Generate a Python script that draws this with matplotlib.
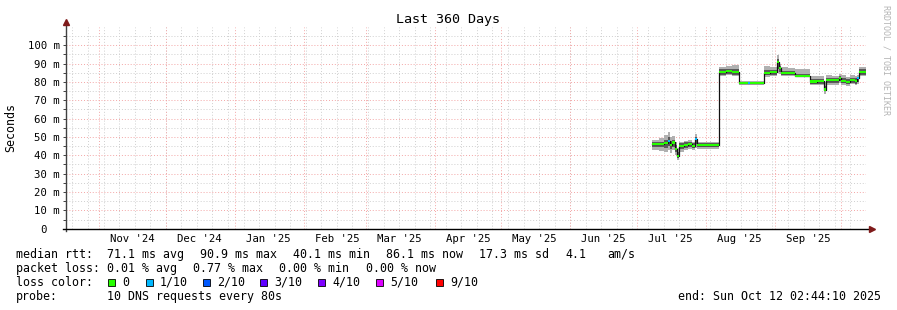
import numpy as np
import matplotlib
matplotlib.use('Agg')
import matplotlib.pyplot as plt
import matplotlib.dates as mdates
from matplotlib.patches import Rectangle
from matplotlib.ticker import MultipleLocator, FuncFormatter, FixedLocator

W, H = 897, 310
plt.rcParams['font.family'] = 'DejaVu Sans Mono'

t_start = np.datetime64('2024-10-17T02:44:10')
t_end = np.datetime64('2025-10-12T02:44:10')

# step edges of the consolidated rows (value holds until the next edge)
edges = ['2025-07-08', '2025-07-11', '2025-07-13', '2025-07-15', '2025-07-16',
         '2025-07-17', '2025-07-18', '2025-07-19', '2025-07-20', '2025-07-22',
         '2025-07-24', '2025-07-26', '2025-07-27', '2025-07-28', '2025-08-01',
         '2025-08-04', '2025-08-07', '2025-08-10', '2025-08-13', '2025-08-16',
         '2025-08-20', '2025-08-21', '2025-08-27', '2025-08-30', '2025-09-02',
         '2025-09-03', '2025-09-04', '2025-09-07', '2025-09-10', '2025-09-14',
         '2025-09-17', '2025-09-20', '2025-09-23', '2025-09-24', '2025-09-27',
         '2025-09-30', '2025-10-01', '2025-10-03', '2025-10-05', '2025-10-07',
         '2025-10-08', '2025-10-09', '2025-10-12T02:44:10']

# milliseconds
median_ms = [46.0, 46.0, 46.5, 48.0, 45.5, 47.0, 43.5, 39.5, 45.0, 45.5,
             46.0, 45.0, 49.0, 45.5, 45.5, 45.5, 85.5, 86.0, 85.5, 79.3,
             79.3, 79.3, 85.0, 85.5, 91.0, 87.5, 84.7, 84.7, 83.3, 83.3,
             80.2, 80.5, 75.8, 81.0, 81.0, 82.0, 80.5, 80.0, 81.0, 80.5,
             82.0, 85.5]
smoke_lo = [43.0, 42.5, 42.0, 43.0, 41.0, 43.0, 40.0, 37.5, 42.0, 43.0,
            43.5, 43.0, 44.0, 43.5, 43.5, 43.5, 83.0, 83.5, 83.0, 78.5,
            78.5, 78.5, 82.5, 83.0, 85.0, 84.5, 83.0, 83.0, 82.5, 82.5,
            78.5, 78.5, 73.5, 78.5, 78.5, 79.5, 78.5, 78.0, 79.0, 78.5,
            79.0, 83.0]
smoke_hi = [48.5, 49.5, 51.0, 52.5, 50.0, 50.5, 47.0, 44.0, 47.5, 48.0,
            48.5, 47.5, 51.5, 47.5, 47.0, 47.5, 88.0, 88.5, 89.0, 80.3,
            80.3, 80.3, 88.5, 88.0, 94.5, 89.5, 88.0, 87.5, 87.0, 87.0,
            83.0, 83.0, 80.0, 83.5, 83.0, 84.5, 83.5, 82.5, 83.5, 83.0,
            83.5, 88.0]
core_lo = [44.5, 44.5, 44.0, 45.0, 43.5, 44.5, 42.0, 38.5, 43.5, 44.0,
           44.5, 44.0, 46.0, 44.5, 44.5, 44.5, 84.0, 84.5, 84.0, 78.8,
           78.8, 78.8, 83.5, 84.0, 87.0, 85.5, 83.5, 83.5, 82.8, 82.8,
           79.0, 79.0, 75.0, 79.5, 79.5, 80.5, 79.5, 79.0, 79.5, 79.0,
           80.0, 84.0]
core_hi = [47.0, 47.5, 48.5, 50.0, 48.0, 48.5, 45.5, 42.0, 46.5, 47.0,
           47.0, 46.5, 50.0, 46.5, 46.5, 46.5, 87.0, 87.0, 87.0, 79.8,
           79.8, 79.8, 86.5, 86.5, 92.5, 88.5, 86.0, 86.0, 84.5, 84.5,
           81.5, 81.5, 78.0, 82.0, 82.0, 83.0, 82.0, 81.5, 82.0, 82.0,
           82.5, 87.0]
# lost pings out of 10
loss = [0, 0, 0, 1, 0, 0, 0, 0, 0, 0,
        0, 0, 1, 0, 0, 0, 0, 0, 0, 0,
        1, 0, 0, 0, 0, 0, 0, 0, 0, 0,
        0, 0, 0, 0, 0, 0, 0, 0, 0, 0,
        1, 0]

loss_levels = [0, 1, 2, 3, 4, 5, 9]
loss_labels = ['0', '1/10', '2/10', '3/10', '4/10', '5/10', '9/10']
loss_colors = ['#26ff00', '#00b8ff', '#0059ff', '#5e00ff', '#7e00ff', '#dd00ff', '#ff0000']

fig = plt.figure(figsize=(W / 100, H / 100), dpi=100)
ax = fig.add_axes([66 / W, 1 - 228.7 / H, 800 / W, (228.7 - 27) / H])

x0 = mdates.date2num(t_start)
x1 = mdates.date2num(t_end)
ax.set_xlim(x0, x1)
ax.set_ylim(0, 0.1099)

red_grid = '#f3a6a6'
gray_grid = '#cfcfcf'
dots = (0, (1, 2))

# grid: weekly (gray) and monthly (red)
sundays = np.arange(np.datetime64('2024-10-20'), t_end.astype('datetime64[D]'), 7)
for d in mdates.date2num(sundays):
    ax.axvline(d, color=gray_grid, lw=0.7, ls=dots, zorder=0)
months = np.arange(np.datetime64('2024-11'), np.datetime64('2025-11'), dtype='datetime64[M]')
for d in mdates.date2num(months.astype('datetime64[D]')):
    if x0 < d < x1:
        ax.axvline(d, color=red_grid, lw=0.7, ls=dots, zorder=0)

ax.yaxis.set_major_locator(MultipleLocator(0.01))
ax.yaxis.set_minor_locator(MultipleLocator(0.005))
ax.yaxis.set_major_formatter(FuncFormatter(
    lambda v, p: '0  ' if abs(v) < 1e-9 else '%d m' % round(v * 1000)))
ax.grid(axis='y', which='major', color=red_grid, lw=0.7, ls=dots, zorder=0)
ax.grid(axis='y', which='minor', color=gray_grid, lw=0.7, ls=dots, zorder=0)
ax.set_axisbelow(True)

# month labels centred mid-month
all_months = np.arange(np.datetime64('2024-10'), np.datetime64('2025-11'), dtype='datetime64[M]')
mids = mdates.date2num(all_months.astype('datetime64[D]') + 15)
mids = [m for m in mids if x0 < m < x1]
ax.xaxis.set_major_locator(FixedLocator(mids))
ax.xaxis.set_major_formatter(mdates.DateFormatter("%b '%y"))
ax.tick_params(axis='x', length=0, pad=3.5, labelsize=7.7)
ax.tick_params(axis='y', which='both', length=2.2, width=0.7, color='#404040',
               pad=2.2, labelsize=7.7, direction='out')

for s in ax.spines.values():
    s.set_visible(False)

# data
xe = mdates.date2num(np.array(edges, dtype='datetime64[s]'))
xs = np.repeat(xe, 2)[1:-1]

def stepped(vals):
    return np.repeat(np.asarray(vals) / 1000.0, 2)

ax.fill_between(xs, stepped(smoke_lo), stepped(smoke_hi), color='#b0b0b0', lw=0, zorder=2)
ax.fill_between(xs, stepped(core_lo), stepped(core_hi), color='#5a5a5a', lw=0, zorder=3)
ax.plot(xs, stepped(median_ms), color='#111111', lw=0.9, zorder=4)

sw = 0.0006
med = np.asarray(median_ms) / 1000.0
bar_colors = [loss_colors[loss_levels.index(l)] for l in loss]
ax.bar(xe[:-1], 2 * sw, width=np.diff(xe), bottom=med - sw, align='edge',
       color=bar_colors, lw=0, zorder=5)

# axis lines with arrows
ax.plot([0, 0], [-0.012, 1.02], transform=ax.transAxes, color='#404040', lw=1, clip_on=False, zorder=6)
ax.plot([0], [1.025], marker='^', ms=4, color='#7f1a1a', transform=ax.transAxes, clip_on=False, zorder=7)
ax.plot([-0.004, 1.004], [0, 0], transform=ax.transAxes, color='#000000', lw=1, clip_on=False, zorder=6)
ax.plot([1.007], [0], marker='>', ms=4, color='#7f1a1a', transform=ax.transAxes, clip_on=False, zorder=7)

# texts
fig.text(448 / W, 1 - 19 / H, 'Last 360 Days', ha='center', va='center', fontsize=9.6)
fig.text(11 / W, 1 - 127 / H, 'Seconds', rotation=90, ha='center', va='center', fontsize=8.4)
fig.text(886 / W, 1 - 5 / H, 'RRDTOOL / TOBI OETIKER', rotation=270, ha='center', va='top',
         fontsize=6, color='#b4b4b4')

fs = 8.4
row_y = [254.3, 268.3, 282.0, 296.3]

def put(x, row, s, ha='left'):
    fig.text(x / W, 1 - row_y[row] / H, s, ha=ha, va='center', fontsize=fs)

put(16, 0, 'median rtt:')
for x, s in zip([107, 200, 293, 386, 479, 565, 607],
                ['71.1 ms avg', '90.9 ms max', '40.1 ms min', '86.1 ms now',
                 '17.3 ms sd', '4.1', 'am/s']):
    put(x, 0, s)
put(16, 1, 'packet loss:')
for x, s in zip([107, 193, 279, 366],
                ['0.01 % avg', '0.77 % max', '0.00 % min', '0.00 % now']):
    put(x, 1, s)
put(16, 2, 'loss color:')
box_x = [108, 146, 203, 260, 318, 376, 436]
for bx, lab, col in zip(box_x, loss_labels, loss_colors):
    fig.patches.append(Rectangle((bx / W, 1 - (row_y[2] + 3.5) / H), 7 / W, 7 / H,
                                 transform=fig.transFigure, facecolor=col,
                                 edgecolor='black', lw=0.6))
    put(bx + 14, 2, lab)
put(16, 3, 'probe:')
put(107, 3, '10 DNS requests every 80s')
put(881, 3, 'end: Sun Oct 12 02:44:10 2025', ha='right')

fig.savefig('out.png', dpi=100, facecolor='white')
